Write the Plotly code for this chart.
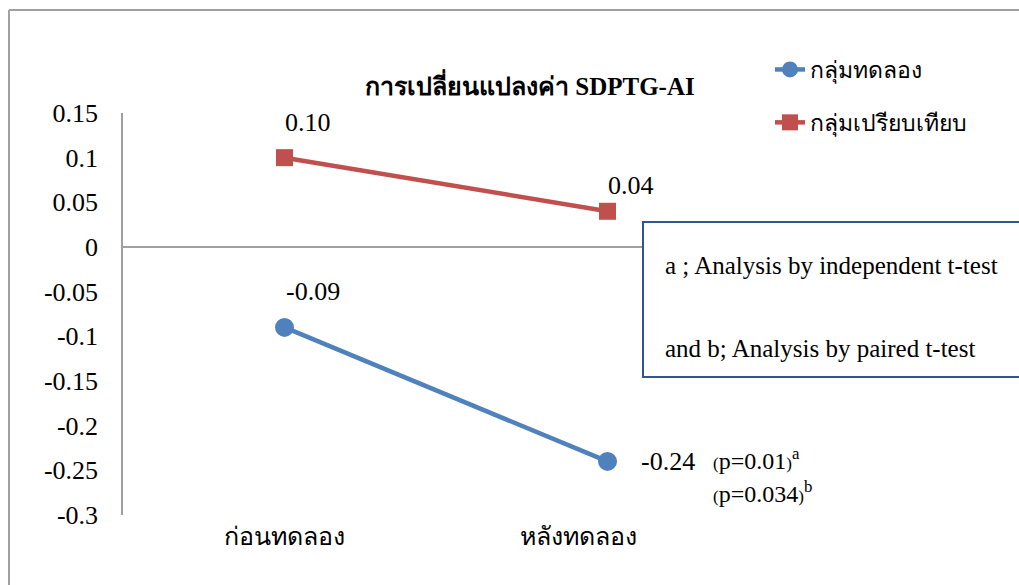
import plotly.graph_objects as go

categories = ["ก่อนทดลอง", "หลังทดลอง"]
exp_name = "กลุ่มทดลอง"
ctl_name = "กลุ่มเปรียบเทียบ"
exp_values = [-0.09, -0.24]
ctl_values = [0.10, 0.04]
y_ticks = [0.15, 0.1, 0.05, 0, -0.05, -0.1, -0.15, -0.2, -0.25, -0.3]
y_tick_text = ["0.15", "0.1", "0.05", "0", "-0.05", "-0.1", "-0.15", "-0.2", "-0.25", "-0.3"]
title_text = "การเปลี่ยนแปลงค่า SDPTG-AI"
note_lines = ["a ; Analysis by independent t-test", "and b; Analysis by paired t-test"]
p_texts = ["<span style='font-size:17px'>(</span>p=0.01<span style='font-size:17px'>)</span><sup>a</sup>",
           "<span style='font-size:17px'>(</span>p=0.034<span style='font-size:17px'>)</span><sup>b</sup>"]

BLUE = "#4F81BD"
RED = "#C0504D"
FONT = "Liberation Serif"

W, H = 1019, 585
L, R, T, B = 123, 250, 113, 70
pw, ph = W - L - R, H - T - B

def px_x(p):
    return (p - L) / pw

def px_y(p):
    return (H - B - p) / ph

fig = go.Figure()
fig.add_trace(go.Scatter(x=categories, y=exp_values, name=exp_name, mode="lines+markers",
                         line=dict(color=BLUE, width=4.5),
                         marker=dict(symbol="circle", size=19, color=BLUE),
                         legendgroup="g1"))
fig.add_trace(go.Scatter(x=categories, y=ctl_values, name=ctl_name, mode="lines+markers",
                         line=dict(color=RED, width=4.5),
                         marker=dict(symbol="square", size=17, color=RED),
                         legendgroup="g2"))

LBL = dict(family=FONT, size=26, color="#000")
annotations = []
# data labels
ctl_shifts = [(23, 35), (23, 26)]
for i, v in enumerate(ctl_values):
    dx, dy = ctl_shifts[i]
    annotations.append(dict(x=categories[i], y=v, text=f"{v:.2f}", showarrow=False,
                            xshift=dx, yshift=dy, font=LBL))
annotations.append(dict(x=categories[0], y=exp_values[0], text=f"{exp_values[0]:.2f}", showarrow=False,
                        xshift=28, yshift=36, font=LBL))
annotations.append(dict(x=categories[1], y=exp_values[1], text=f"{exp_values[1]:.2f}", showarrow=False,
                        xanchor="left", xshift=31, yshift=0, font=LBL))
# p-values
annotations.append(dict(x=categories[1], y=exp_values[1], text=p_texts[0], showarrow=False,
                        xanchor="left", xshift=103, yshift=2, font=dict(family=FONT, size=24, color="#000")))
annotations.append(dict(x=categories[1], y=exp_values[1], text=p_texts[1], showarrow=False,
                        xanchor="left", xshift=103, yshift=-31, font=dict(family=FONT, size=24, color="#000")))
# category labels (drawn as annotations so each can be placed like the reference)
cat_shifts = [0, -29]
for i, c in enumerate(categories):
    annotations.append(dict(x=c, xref="x", yref="paper", y=px_y(552), text=c, showarrow=False,
                            xshift=cat_shifts[i], font=dict(family=FONT, size=25, color="#000")))
# title
annotations.append(dict(xref="paper", yref="paper", x=px_x(530), y=px_y(67), text=f"<b>{title_text}</b>",
                        showarrow=False, font=dict(family=FONT, size=25, color="#000")))
# note box text
annotations.append(dict(xref="paper", yref="paper", x=px_x(663), y=px_y(265), xanchor="left",
                        text=note_lines[0], showarrow=False, font=dict(family=FONT, size=25, color="#000")))
annotations.append(dict(xref="paper", yref="paper", x=px_x(663), y=px_y(348), xanchor="left",
                        text=note_lines[1], showarrow=False, font=dict(family=FONT, size=25, color="#000")))

shapes = [
    # outer chart frame (top and left)
    dict(type="line", xref="paper", yref="paper", x0=px_x(9), x1=px_x(1030), y0=px_y(10), y1=px_y(10),
         line=dict(color="#A0A0A0", width=2), layer="below"),
    dict(type="line", xref="paper", yref="paper", x0=px_x(9), x1=px_x(9), y0=px_y(10), y1=px_y(600),
         line=dict(color="#A0A0A0", width=2), layer="below"),
    # note box
    dict(type="rect", xref="paper", yref="paper", x0=px_x(643), x1=px_x(1040), y0=px_y(222), y1=px_y(377),
         line=dict(color="#2F5597", width=2), fillcolor="white", layer="above"),
]

fig.update_layout(
    width=W, height=H,
    margin=dict(l=L, r=R, t=T, b=B),
    paper_bgcolor="white", plot_bgcolor="white",
    showlegend=True,
    legend=dict(x=px_x(770), y=px_y(48), xanchor="left", yanchor="top",
                font=dict(family=FONT, size=23, color="#000"),
                traceorder="grouped", tracegroupgap=20, bgcolor="rgba(0,0,0,0)"),
    xaxis=dict(type="category", range=[-0.5, 1.5], showline=False, showgrid=False, zeroline=False,
               ticks="", showticklabels=False),
    yaxis=dict(range=[-0.3, 0.15], tickvals=y_ticks, ticktext=y_tick_text, showgrid=False,
               showline=True, linecolor="#A0A0A0", linewidth=1.5,
               zeroline=True, zerolinecolor="#A0A0A0", zerolinewidth=1.5,
               ticks="", tickfont=dict(family=FONT, size=26, color="#000"), ticklabelstandoff=18),
    annotations=annotations,
    shapes=shapes,
)

fig.write_html("out.html", config={"displayModeBar": False},
               post_script="document.body.style.margin='0';")
